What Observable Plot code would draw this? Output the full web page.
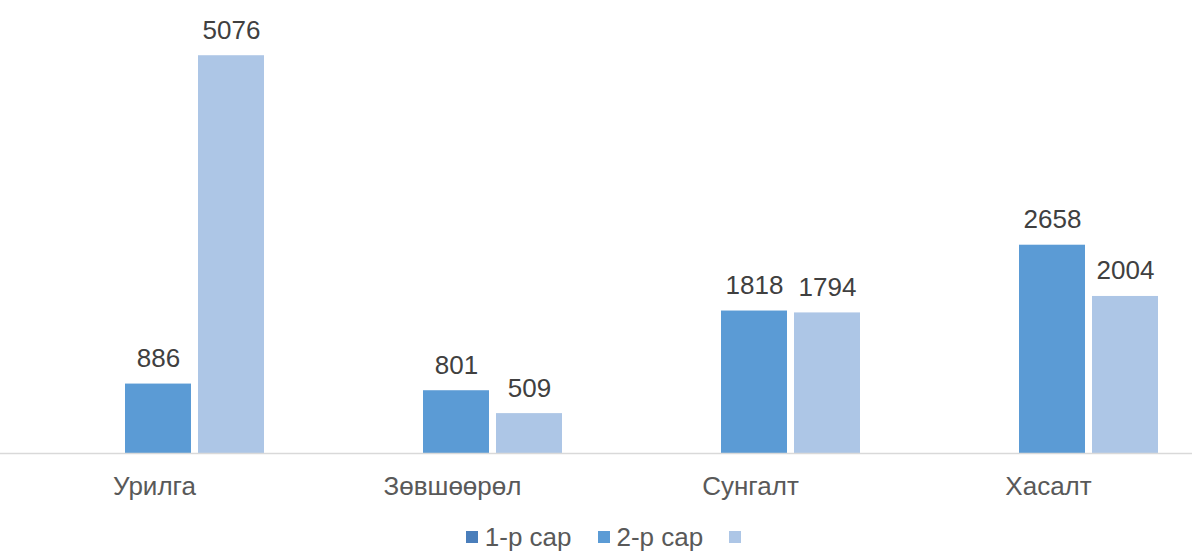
<!DOCTYPE html>
<html><head><meta charset="utf-8">
<script src="https://cdn.jsdelivr.net/npm/d3@7"></script>
<script src="https://cdn.jsdelivr.net/npm/@observablehq/plot@0.6"></script>
<style>
body{margin:0;background:#fff;font-family:"Liberation Sans",Arial,sans-serif}
#legend{display:flex;justify-content:center;align-items:center;height:34px;line-height:1;padding-left:22px;font-size:26px;color:#595959}
#legend .item{display:flex;align-items:center;margin:0 13px}
#legend .sw{width:12px;height:12px;margin-right:7px}
</style></head><body><div id="chart"></div><div id="legend"></div><script>
const categories = ["Урилга","Зөвшөөрөл","Сунгалт","Хасалт"];
const seriesKeys = ["s1","s2","s3"];
const seriesNames = ["1-р сар","2-р сар",""];
const series1 = [null,null,null,null];
const series2 = [886,801,1818,2658];
const series3 = [5076,509,1794,2004];
const colors = ["#4A7EBB","#5B9BD5","#ADC6E6"];

const allSeries = [series1, series2, series3];
const data = [];
categories.forEach((c,i)=>allSeries.forEach((s,j)=>data.push({category:c, series:seriesKeys[j], value:s[i]})));
const shown = data.filter(d=>d.value!=null);

const chart = Plot.plot({
  width:1192, height:520,
  marginLeft:0, marginRight:0, marginTop:22, marginBottom:67,
  style:{fontFamily:"Liberation Sans, Arial, sans-serif", fontSize:"26px", color:"#595959", background:"#fff"},
  fx:{domain:categories, padding:0, label:null, axis:null},
  x:{domain:seriesKeys, paddingInner:0.096, paddingOuter:0.589, align:0.605, axis:null},
  y:{domain:[0,5500], axis:null},
  color:{domain:seriesKeys, range:colors},
  marks:[
    Plot.axisFx({anchor:"bottom", tickSize:0, tickPadding:23, fontSize:26, dx:5, label:null, fill:"#595959"}),
    Plot.barY(shown, {fx:"category", x:"series", y:"value", fill:"series"}),
    Plot.ruleY([0], {stroke:"#d9d9d9", strokeWidth:1.5}),
    Plot.text(shown, {fx:"category", x:"series", y:"value", text:d=>String(d.value), lineAnchor:"bottom", dy:-17, fontSize:26, fill:"#404040"})
  ]
});
document.getElementById("chart").appendChild(chart);
const lg = document.getElementById("legend");
seriesKeys.forEach((k,i)=>{
  const it = document.createElement("div"); it.className="item";
  const sw = document.createElement("div"); sw.className="sw"; sw.style.background=colors[i];
  const tx = document.createElement("span"); tx.textContent=seriesNames[i];
  it.appendChild(sw); it.appendChild(tx); lg.appendChild(it);
});
</script></body></html>
